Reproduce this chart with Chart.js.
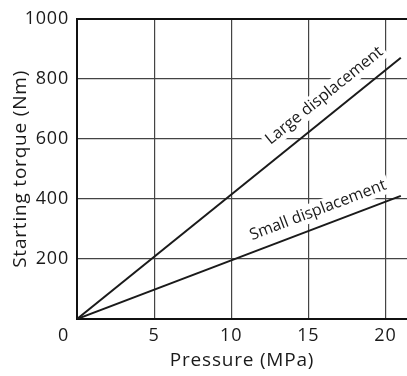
<!DOCTYPE html>
<html>
<head>
<meta charset="utf-8">
<script src="https://cdn.jsdelivr.net/npm/chart.js@4"></script>
<style>
  html, body { margin: 0; padding: 0; background: #fff; }
</style>
</head>
<body>
<canvas id="torqueChart" width="407" height="376"></canvas>
<script>
// values
const pressure = [0, 21];
const largeTorque = [0, 870];
const smallTorque = [0, 410];
const xTicks = [5, 10, 15, 20];
const yTicks = [200, 400, 600, 800, 1000];
const seriesNames = ['Large displacement', 'Small displacement'];

const toPoints = (ys) => pressure.map((p, i) => ({ x: p, y: ys[i] }));

// where the text sits along each line (x value) and how far above it (px)
const labelSpots = [
  { ds: 0, at: 16.8, off: 14 },
  { ds: 1, at: 16.0, off: 11.5 },
];

const extras = {
  id: 'extras',
  beforeDraw(chart) {
    chart.ctx.letterSpacing = '0.8px';
  },
  beforeDatasetsDraw(chart) {
    const { ctx, scales: { x, y } } = chart;
    labelSpots.forEach((spot) => {
      const pts = chart.data.datasets[spot.ds].data;
      const a = pts[0], b = pts[pts.length - 1];
      const x0 = x.getPixelForValue(a.x), y0 = y.getPixelForValue(a.y);
      const x1 = x.getPixelForValue(b.x), y1 = y.getPixelForValue(b.y);
      const angle = Math.atan2(y1 - y0, x1 - x0);
      const px = x.getPixelForValue(spot.at);
      const py = y0 + (px - x0) * (y1 - y0) / (x1 - x0);
      const text = chart.data.datasets[spot.ds].label;

      ctx.save();
      ctx.letterSpacing = '0px';
      ctx.translate(px, py);
      ctx.rotate(angle);
      ctx.font = '16px "Open Sans"';
      const w = ctx.measureText(text).width;
      ctx.fillStyle = '#fff';
      ctx.fillRect(-w / 2 - 3, -spot.off - 14, w + 6, 19);
      ctx.fillStyle = '#1a1a1a';
      ctx.textAlign = 'center';
      ctx.textBaseline = 'alphabetic';
      ctx.fillText(text, 0, -spot.off);
      ctx.restore();
    });
  },
  afterDraw(chart) {
    // single "0" in the corner, shared by both axes
    const { ctx, scales: { x, y } } = chart;
    ctx.save();
    ctx.font = '18px "Open Sans"';
    ctx.fillStyle = '#1a1a1a';
    ctx.textAlign = 'right';
    ctx.textBaseline = 'middle';
    ctx.fillText('0', y.right - 8, x.top + 6 + 18 * 1.2 / 2);
    ctx.restore();
  },
};

Chart.defaults.font.family = '"Open Sans"';
Chart.defaults.color = '#1a1a1a';

const ctx = document.getElementById('torqueChart').getContext('2d');
new Chart(ctx, {
  type: 'scatter',
  data: {
    datasets: [
      {
        label: seriesNames[0],
        data: toPoints(largeTorque),
        showLine: true,
        borderColor: '#1a1a1a',
        borderWidth: 2,
        pointRadius: 0,
      },
      {
        label: seriesNames[1],
        data: toPoints(smallTorque),
        showLine: true,
        borderColor: '#1a1a1a',
        borderWidth: 2,
        pointRadius: 0,
      },
    ],
  },
  options: {
    responsive: false,
    animation: false,
    layout: { padding: { top: 12, right: 0, left: 0, bottom: 0 } },
    plugins: {
      legend: { display: false },
      tooltip: { enabled: false },
    },
    scales: {
      x: {
        type: 'linear',
        min: 0,
        max: 21.4,
        afterBuildTicks: (s) => { s.ticks = xTicks.map((v) => ({ value: v })); },
        afterFit: (s) => { s.height = 57; },
        ticks: { font: { size: 18 }, color: '#1a1a1a', padding: 6, maxRotation: 0, callback: (v) => String(v) },
        grid: { color: '#444', lineWidth: 1.2, drawTicks: false },
        border: { color: '#111', width: 2 },
        title: {
          display: true,
          text: 'Pressure (MPa)',
          color: '#1a1a1a',
          font: { size: 19 },
          padding: { top: 0, bottom: 4 },
        },
      },
      y: {
        min: 0,
        max: 1000,
        afterBuildTicks: (s) => { s.ticks = yTicks.map((v) => ({ value: v })); },
        afterFit: (s) => { s.width = 77; },
        ticks: { font: { size: 18 }, color: '#1a1a1a', padding: 8, callback: (v) => String(v) },
        grid: {
          color: (c) => (c.tick && c.tick.value === 1000 ? '#111' : '#444'),
          lineWidth: (c) => (c.tick && c.tick.value === 1000 ? 2 : 1.2),
          drawTicks: false,
        },
        border: { color: '#111', width: 2 },
        title: {
          display: true,
          text: 'Starting torque (Nm)',
          color: '#1a1a1a',
          font: { size: 19 },
          padding: { top: 9, bottom: 0 },
        },
      },
    },
  },
  plugins: [extras],
});
</script>
</body>
</html>
